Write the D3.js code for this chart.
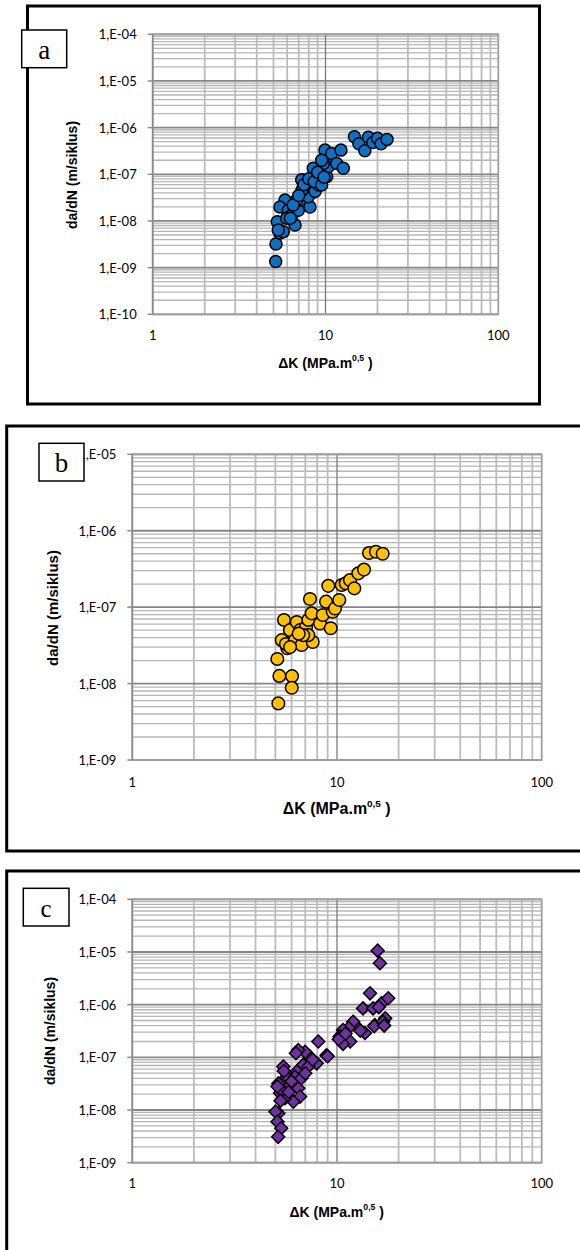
<!DOCTYPE html>
<html>
<head>
<meta charset="utf-8">
<script src="https://cdn.jsdelivr.net/npm/d3@7"></script>
<style>
  body { margin: 0; background: #fff; }
</style>
</head>
<body>
<svg id="chart" width="580" height="1250"></svg>
<script>
// ---- data ----
// panel a : blue circles
var aK = [5.15, 5.17, 5.45, 5.26, 5.70, 5.83, 5.45, 6.09, 6.38, 6.66, 6.96, 7.12, 7.28, 7.61, 8.13,
  7.95, 8.32, 8.50, 8.89, 9.29, 9.51, 9.93, 10.16, 10.38, 10.62, 10.86, 11.61, 12.29, 12.68,
  7.78, 8.70, 9.71, 7.44, 6.81, 5.96, 5.33, 9.13, 9.50, 6.26, 7.30, 8.90,
  6.5, 7.0, 7.5, 8.0, 8.6, 9.0, 9.5, 9.8,
  14.7, 15.6, 16.9, 17.7, 18.8, 20.0, 21.0, 22.7];
var aRate = [1.35e-9, 3.2e-9, 5.5e-9, 9.6e-9, 5.9e-9, 2.8e-8, 2.0e-8, 1.7e-8, 1.35e-8, 8.2e-9, 1.7e-8, 2.8e-8, 7.6e-8, 3.9e-8, 2.0e-8,
  3.3e-8, 5.5e-8, 1.35e-7, 8.9e-8, 6.4e-8, 1.24e-7, 3.3e-7, 8.9e-8, 1.46e-7, 2.2e-7, 2.8e-7, 1.7e-7, 3.3e-7, 1.35e-7,
  5.5e-8, 4.3e-8, 1.7e-7, 5.0e-8, 2.8e-8, 1.15e-8, 6.4e-9, 5.9e-8, 2.0e-7, 1.15e-8, 4.5e-8, 1.0e-7,
  2.2e-8, 3.5e-8, 6.0e-8, 8.0e-8, 7.0e-8, 1.1e-7, 5.9e-8, 8.7e-8,
  6.4e-7, 4.5e-7, 3.2e-7, 6.2e-7, 4.8e-7, 5.9e-7, 4.5e-7, 5.6e-7];

// panel b : yellow circles
var bK = [5.17, 5.23, 6.03, 6.01, 5.11, 5.37, 5.72, 5.51, 5.89, 5.63, 6.36, 6.60, 6.23, 6.72, 7.06,
  7.24, 7.52, 7.38, 7.61, 7.24, 8.26, 8.52, 8.84, 9.07, 9.32, 9.53, 9.78, 10.26, 10.54, 11.03,
  11.57, 12.15, 12.71, 13.55, 14.33, 15.50, 16.72, 6.84, 5.90, 6.50];
var bRate = [5.5e-9, 1.26e-8, 1.25e-8, 8.8e-9, 2.1e-8, 3.7e-8, 2.9e-8, 6.8e-8, 5.0e-8, 3.3e-8, 6.4e-8, 5.0e-8, 3.7e-8, 3.2e-8, 5.5e-8,
  6.8e-8, 8.3e-8, 1.28e-7, 3.5e-8, 4.3e-8, 6.1e-8, 7.9e-8, 1.18e-7, 1.9e-7, 5.3e-8, 8.7e-8, 9.6e-8, 1.24e-7, 1.95e-7, 2.05e-7,
  2.26e-7, 1.76e-7, 2.77e-7, 3.1e-7, 5.1e-7, 5.3e-7, 5.0e-7, 4.3e-8, 3.0e-8, 4.5e-8];

// panel c : purple diamonds
var cK = [15.8, 16.2, 14.5, 13.4, 15.0, 16.5, 17.8, 17.2, 15.3, 16.8, 13.7, 12.5, 12.0, 11.4, 10.7,
  10.3, 11.6, 10.7, 8.1, 8.9, 7.96, 7.38, 6.98, 6.47, 6.84, 6.36, 5.47, 5.68, 5.17, 5.89,
  6.47, 6.60, 6.12, 5.57, 5.17, 7.24, 6.23, 5.27, 5.01, 5.12, 5.34, 5.16, 5.34, 5.12, 10.2, 9.0, 15.2,
  5.5, 5.8, 6.0, 6.7, 7.0, 7.6, 6.3, 5.3, 16.0, 17.0, 13.0, 11.0];
var cRate = [1.06e-5, 6.1e-6, 1.64e-6, 8.5e-7, 8.5e-7, 1.06e-6, 1.32e-6, 5.5e-7, 4.1e-7, 4.75e-7, 2.9e-7, 3.8e-7, 4.75e-7, 3.6e-7, 3.3e-7,
  2.5e-7, 2.0e-7, 1.8e-7, 2.0e-7, 1.1e-7, 7.7e-8, 1.03e-7, 1.28e-7, 1.38e-7, 7.2e-8, 5.4e-8, 6.7e-8, 4.3e-8, 3.2e-8, 3.0e-8,
  2.6e-8, 1.8e-8, 1.44e-8, 1.67e-8, 8.7e-9, 6.7e-8, 4.3e-8, 2.1e-8, 9.3e-9, 6.0e-9, 4.5e-9, 3.1e-9, 2.4e-8, 2.8e-8, 2.2e-7, 1.05e-7, 3.9e-7,
  5.5e-8, 2.2e-8, 3.5e-8, 4.0e-8, 5.0e-8, 9.0e-8, 1.2e-7, 1.5e-8, 9.0e-7, 4.0e-7, 3.2e-7, 2.8e-7];

// tick labels
var xLabels = ["1", "10", "100"];
var yLabelsA = ["1,E-10", "1,E-09", "1,E-08", "1,E-07", "1,E-06", "1,E-05", "1,E-04"];
var yLabelsB = ["1,E-09", "1,E-08", "1,E-07", "1,E-06", "1,E-05"];
var yLabelsC = ["1,E-09", "1,E-08", "1,E-07", "1,E-06", "1,E-05", "1,E-04"];

var yTitle = "da/dN (m/siklus)";

var svg = d3.select("#chart");

var panels = [
  { letter: "a", letterSize: 27, K: aK, rate: aRate, yLabels: yLabelsA, yDomain: [1e-10, 1e-4],
    color: "#0f6fc0", marker: "circle", r: 6,
    frame: {x: 27.5, y: 6, w: 512, h: 398},
    box: {x: 21.7, y: 30, w: 45, h: 37.7},
    plot: {l: 152.7, r: 498.3, t: 34.3, b: 314.3},
    xLabY: 335, xTitle: {x: 325.5, y: 363, size: 14}, yTitleP: {x: 72, y: 175, size: 14} },
  { letter: "b", letterSize: 27, K: bK, rate: bRate, yLabels: yLabelsB, yDomain: [1e-9, 1e-5],
    color: "#ffc000", marker: "circle", r: 6.3,
    frame: {x: 6.7, y: 426, w: 620, h: 425},
    box: {x: 39, y: 443.3, w: 45, h: 37.7},
    plot: {l: 132.3, r: 541.7, t: 454.3, b: 760},
    xLabY: 781.7, xTitle: {x: 336.7, y: 808.3, size: 16}, yTitleP: {x: 52, y: 608, size: 15} },
  { letter: "c", letterSize: 25, K: cK, rate: cRate, yLabels: yLabelsC, yDomain: [1e-9, 1e-4],
    color: "#7030a0", marker: "diamond", r: 6.5,
    frame: {x: 6.7, y: 871, w: 620, h: 420},
    box: {x: 23.3, y: 888.3, w: 45.7, h: 37.7},
    plot: {l: 132.3, r: 541.7, t: 899.3, b: 1162.7},
    xLabY: 1183.3, xTitle: {x: 336.7, y: 1211.7, size: 14}, yTitleP: {x: 50, y: 1031, size: 14} }
];

function isDecade(v) {
  var l = Math.log10(v);
  return Math.abs(l - Math.round(l)) < 1e-6;
}

panels.forEach(function(p) {
  var g = svg.append("g");
  var x = d3.scaleLog().domain([1, 100]).range([p.plot.l, p.plot.r]);
  var y = d3.scaleLog().domain(p.yDomain).range([p.plot.b, p.plot.t]);

  var yt = y.ticks(20), xt = x.ticks(20);

  // outer frame
  g.append("rect")
    .attr("x", p.frame.x).attr("y", p.frame.y)
    .attr("width", p.frame.w).attr("height", p.frame.h)
    .attr("fill", "#fff").attr("stroke", "#000").attr("stroke-width", 3);

  // minor grid
  g.selectAll(".hmin").data(yt.filter(function(d) { return !isDecade(d); }))
    .enter().append("line")
    .attr("x1", p.plot.l).attr("x2", p.plot.r)
    .attr("y1", function(d) { return y(d); }).attr("y2", function(d) { return y(d); })
    .attr("stroke", "#b6b6b6").attr("stroke-width", 1.3);
  g.selectAll(".vmin").data(xt.filter(function(d) { return !isDecade(d); }))
    .enter().append("line")
    .attr("y1", p.plot.t).attr("y2", p.plot.b)
    .attr("x1", function(d) { return x(d); }).attr("x2", function(d) { return x(d); })
    .attr("stroke", "#bcbcbc").attr("stroke-width", 1.8);

  // major grid
  g.selectAll(".hmaj").data(yt.filter(isDecade))
    .enter().append("line")
    .attr("x1", p.plot.l).attr("x2", p.plot.r)
    .attr("y1", function(d) { return y(d); }).attr("y2", function(d) { return y(d); })
    .attr("stroke", "#868686").attr("stroke-width", 1.8);
  g.selectAll(".vmaj").data([10])
    .enter().append("line")
    .attr("y1", p.plot.t).attr("y2", p.plot.b)
    .attr("x1", function(d) { return x(d); }).attr("x2", function(d) { return x(d); })
    .attr("stroke", "#7a7a7a").attr("stroke-width", 1.3);

  // plot border
  g.append("rect")
    .attr("x", p.plot.l).attr("y", p.plot.t)
    .attr("width", p.plot.r - p.plot.l).attr("height", p.plot.b - p.plot.t)
    .attr("fill", "none").attr("stroke", "#a0a0a0").attr("stroke-width", 1.8);
  g.append("line")
    .attr("x1", p.plot.l).attr("x2", p.plot.l).attr("y1", p.plot.t).attr("y2", p.plot.b)
    .attr("stroke", "#8a8a8a").attr("stroke-width", 1.5);

  // y ticks + labels
  var yMaj = yt.filter(isDecade);
  g.selectAll(".ytk").data(yMaj).enter().append("line")
    .attr("x1", p.plot.l - 5).attr("x2", p.plot.l)
    .attr("y1", function(d) { return y(d); }).attr("y2", function(d) { return y(d); })
    .attr("stroke", "#8a8a8a").attr("stroke-width", 1.5);
  g.selectAll(".ylab").data(yMaj).enter().append("text")
    .attr("x", p.plot.l - 16).attr("y", function(d) { return y(d); })
    .attr("text-anchor", "end").attr("dominant-baseline", "central")
    .style("font-family", "Lato, 'Liberation Sans', sans-serif").style("font-size", "13px")
    .text(function(d, i) { return p.yLabels[i]; });

  // x labels
  g.selectAll(".xlab").data([1, 10, 100]).enter().append("text")
    .attr("x", function(d) { return x(d); }).attr("y", p.xLabY)
    .attr("text-anchor", "middle").attr("dominant-baseline", "central")
    .style("font-family", "Lato, 'Liberation Sans', sans-serif").style("font-size", "13px")
    .text(function(d, i) { return xLabels[i]; });

  // axis titles
  var xtT = g.append("text")
    .attr("x", p.xTitle.x).attr("y", p.xTitle.y)
    .attr("text-anchor", "middle").attr("dominant-baseline", "central")
    .style("font-family", "'Liberation Sans', Arial, sans-serif").style("font-weight", "bold")
    .style("font-size", p.xTitle.size + "px");
  xtT.append("tspan").text("\u0394K (MPa.m");
  xtT.append("tspan").attr("dy", -p.xTitle.size * 0.35).style("font-size", (p.xTitle.size * 0.62) + "px").text("0,5");
  xtT.append("tspan").attr("dy", p.xTitle.size * 0.35).text(" )");

  g.append("text")
    .attr("transform", "translate(" + p.yTitleP.x + "," + p.yTitleP.y + ") rotate(-90)")
    .attr("text-anchor", "middle").attr("dominant-baseline", "central")
    .style("font-family", "'Liberation Sans', Arial, sans-serif").style("font-weight", "bold")
    .style("font-size", p.yTitleP.size + "px")
    .text(yTitle);

  // points
  var pts = p.K.map(function(k, i) { return {k: k, v: p.rate[i]}; });
  if (p.marker === "circle") {
    g.selectAll(".pt").data(pts).enter().append("circle")
      .attr("cx", function(d) { return x(d.k); })
      .attr("cy", function(d) { return y(d.v); })
      .attr("r", p.r)
      .attr("fill", p.color).attr("stroke", "#000").attr("stroke-width", 1.5);
  } else {
    var s = p.r;
    g.selectAll(".pt").data(pts).enter().append("path")
      .attr("d", "M0," + (-s) + "L" + s + ",0L0," + s + "L" + (-s) + ",0Z")
      .attr("transform", function(d) { return "translate(" + x(d.k) + "," + y(d.v) + ")"; })
      .attr("fill", p.color).attr("stroke", "#000").attr("stroke-width", 1.5);
  }

  // letter box
  g.append("rect")
    .attr("x", p.box.x).attr("y", p.box.y).attr("width", p.box.w).attr("height", p.box.h)
    .attr("fill", "#fff").attr("stroke", "#000").attr("stroke-width", 1.5);
  g.append("text")
    .attr("x", p.box.x + p.box.w / 2).attr("y", p.box.y + p.box.h / 2 + 1)
    .attr("text-anchor", "middle").attr("dominant-baseline", "central")
    .style("font-family", "'Liberation Serif', 'Times New Roman', serif")
    .style("font-size", p.letterSize + "px")
    .text(p.letter);
});
</script>
</body>
</html>
